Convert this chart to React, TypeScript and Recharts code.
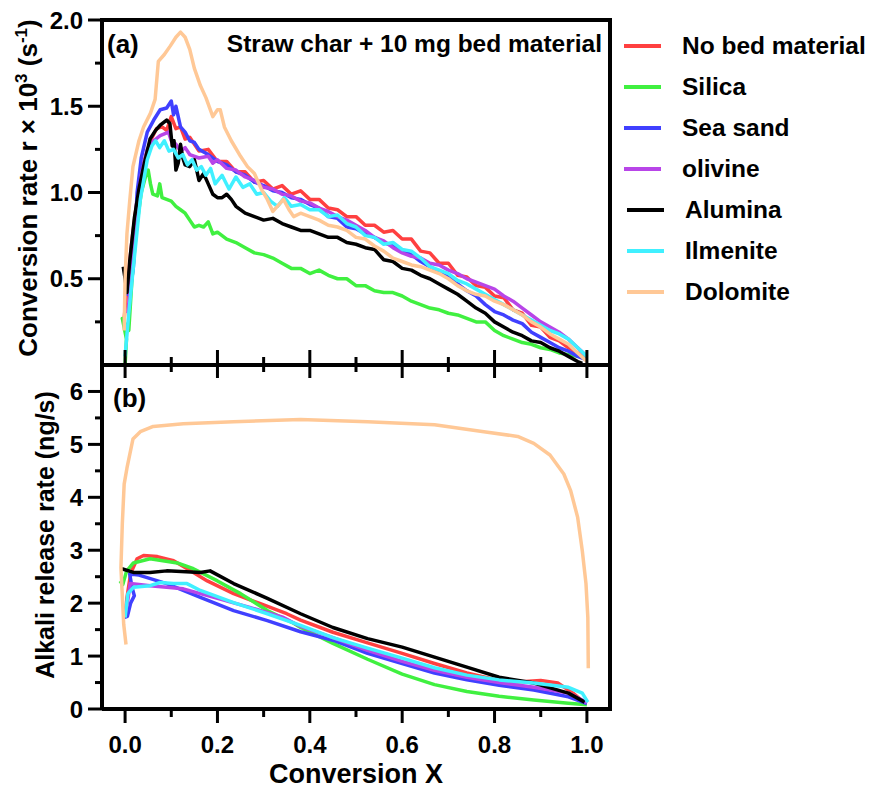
import React from "react";
import { Line, LineChart, XAxis, YAxis } from "recharts";

// conversion X vs conversion rate r x 10^3 (panel a)
const noBedA = [[-0.002,0.27],[0.006,0.5],[0.016,0.75],[0.028,1.0],[0.04,1.17],[0.055,1.3],[0.068,1.37],[0.08,1.38],[0.09,1.36],[0.1,1.44],[0.11,1.37],[0.12,1.38],[0.13,1.31],[0.14,1.32],[0.16,1.24],[0.18,1.25],[0.2,1.18],[0.22,1.18],[0.24,1.12],[0.26,1.12],[0.28,1.06],[0.3,1.07],[0.32,1.02],[0.34,1.04],[0.36,0.99],[0.38,1.01],[0.4,0.96],[0.42,0.96],[0.44,0.91],[0.46,0.9],[0.48,0.86],[0.5,0.86],[0.52,0.81],[0.54,0.81],[0.56,0.77],[0.58,0.78],[0.6,0.73],[0.62,0.73],[0.64,0.66],[0.66,0.65],[0.68,0.59],[0.7,0.59],[0.72,0.52],[0.74,0.51],[0.76,0.46],[0.78,0.45],[0.8,0.4],[0.82,0.39],[0.84,0.32],[0.86,0.3],[0.88,0.23],[0.9,0.22],[0.92,0.16],[0.94,0.14],[0.96,0.1],[0.98,0.07],[1.0,0.03]];
const silicaA = [[0.0,0.0],[0.003,0.15],[-0.006,0.27],[0.008,0.2],[0.015,0.5],[0.025,0.8],[0.035,1.0],[0.045,1.1],[0.05,1.13],[0.055,1.05],[0.06,0.99],[0.07,0.98],[0.075,1.05],[0.08,0.97],[0.09,0.96],[0.1,0.95],[0.11,0.92],[0.12,0.9],[0.13,0.88],[0.14,0.84],[0.15,0.8],[0.16,0.81],[0.17,0.8],[0.18,0.83],[0.19,0.76],[0.2,0.77],[0.22,0.73],[0.24,0.71],[0.26,0.68],[0.28,0.65],[0.3,0.64],[0.32,0.62],[0.34,0.59],[0.36,0.56],[0.38,0.56],[0.4,0.53],[0.42,0.55],[0.44,0.52],[0.46,0.5],[0.48,0.5],[0.5,0.46],[0.52,0.46],[0.54,0.43],[0.56,0.42],[0.58,0.42],[0.6,0.4],[0.62,0.37],[0.64,0.35],[0.66,0.33],[0.68,0.32],[0.7,0.3],[0.72,0.29],[0.74,0.27],[0.76,0.25],[0.78,0.25],[0.8,0.2],[0.82,0.17],[0.84,0.15],[0.86,0.13],[0.88,0.12],[0.9,0.1],[0.92,0.09],[0.94,0.07],[0.96,0.06],[0.98,0.05],[1.0,0.04]];
const seaSandA = [[0.005,0.4],[0.012,0.45],[0.018,0.57],[0.026,1.0],[0.035,1.2],[0.048,1.35],[0.062,1.42],[0.076,1.48],[0.09,1.49],[0.1,1.53],[0.105,1.45],[0.11,1.5],[0.12,1.38],[0.13,1.35],[0.14,1.3],[0.15,1.29],[0.16,1.25],[0.18,1.22],[0.2,1.18],[0.22,1.16],[0.24,1.12],[0.26,1.1],[0.28,1.06],[0.3,1.04],[0.32,1.01],[0.34,1.0],[0.36,0.97],[0.38,0.96],[0.4,0.93],[0.42,0.91],[0.44,0.86],[0.46,0.85],[0.48,0.8],[0.5,0.79],[0.52,0.76],[0.54,0.74],[0.56,0.71],[0.58,0.69],[0.6,0.66],[0.62,0.64],[0.64,0.6],[0.66,0.57],[0.68,0.54],[0.7,0.51],[0.72,0.47],[0.74,0.43],[0.76,0.4],[0.78,0.35],[0.8,0.31],[0.82,0.29],[0.84,0.26],[0.86,0.24],[0.88,0.19],[0.9,0.16],[0.92,0.13],[0.94,0.1],[0.96,0.08],[0.98,0.05],[1.0,0.03]];
const olivineA = [[0.006,0.3],[0.015,0.55],[0.025,0.9],[0.035,1.1],[0.048,1.25],[0.062,1.3],[0.076,1.33],[0.094,1.35],[0.1,1.3],[0.11,1.28],[0.12,1.24],[0.13,1.26],[0.14,1.22],[0.16,1.2],[0.18,1.21],[0.19,1.17],[0.2,1.19],[0.22,1.14],[0.24,1.13],[0.26,1.09],[0.28,1.07],[0.3,1.03],[0.32,1.02],[0.34,0.99],[0.36,0.98],[0.38,0.95],[0.4,0.94],[0.42,0.91],[0.44,0.89],[0.46,0.86],[0.48,0.84],[0.5,0.81],[0.52,0.78],[0.54,0.74],[0.56,0.72],[0.58,0.68],[0.6,0.65],[0.62,0.63],[0.64,0.62],[0.66,0.59],[0.68,0.58],[0.7,0.55],[0.72,0.53],[0.74,0.5],[0.76,0.48],[0.78,0.46],[0.8,0.44],[0.82,0.4],[0.84,0.37],[0.86,0.33],[0.88,0.29],[0.9,0.25],[0.92,0.22],[0.94,0.19],[0.96,0.15],[0.98,0.1],[1.0,0.05]];
const aluminaA = [[-0.004,0.57],[0.0,0.5],[0.004,0.42],[0.01,0.6],[0.02,0.85],[0.03,1.02],[0.04,1.15],[0.054,1.31],[0.066,1.36],[0.076,1.39],[0.09,1.42],[0.097,1.4],[0.102,1.27],[0.106,1.3],[0.11,1.13],[0.115,1.17],[0.12,1.28],[0.125,1.2],[0.13,1.16],[0.14,1.15],[0.15,1.19],[0.16,1.07],[0.17,1.11],[0.18,1.05],[0.19,0.99],[0.2,0.97],[0.21,0.97],[0.22,0.99],[0.23,0.96],[0.24,0.92],[0.26,0.88],[0.28,0.86],[0.3,0.84],[0.32,0.85],[0.34,0.82],[0.36,0.8],[0.38,0.78],[0.4,0.78],[0.42,0.76],[0.44,0.74],[0.46,0.74],[0.48,0.71],[0.5,0.7],[0.52,0.68],[0.54,0.67],[0.56,0.61],[0.58,0.6],[0.6,0.56],[0.62,0.55],[0.64,0.52],[0.66,0.5],[0.68,0.47],[0.7,0.44],[0.72,0.41],[0.74,0.37],[0.76,0.33],[0.78,0.3],[0.8,0.25],[0.82,0.22],[0.84,0.19],[0.86,0.17],[0.88,0.14],[0.9,0.13],[0.92,0.1],[0.94,0.08],[0.96,0.05],[0.98,0.02],[0.99,0.01]];
const ilmeniteA = [[0.0,0.05],[0.008,0.3],[0.018,0.57],[0.033,0.96],[0.048,1.19],[0.058,1.27],[0.066,1.3],[0.075,1.26],[0.085,1.3],[0.095,1.24],[0.105,1.25],[0.115,1.2],[0.125,1.22],[0.135,1.16],[0.145,1.19],[0.155,1.13],[0.165,1.15],[0.175,1.1],[0.185,1.14],[0.195,1.05],[0.21,1.1],[0.225,1.02],[0.24,1.09],[0.255,1.03],[0.27,1.05],[0.285,0.99],[0.3,1.0],[0.315,0.95],[0.33,0.92],[0.345,0.97],[0.36,0.92],[0.38,0.93],[0.4,0.9],[0.42,0.9],[0.44,0.86],[0.46,0.87],[0.48,0.82],[0.5,0.8],[0.52,0.75],[0.54,0.74],[0.56,0.7],[0.58,0.71],[0.6,0.67],[0.62,0.66],[0.64,0.62],[0.66,0.57],[0.68,0.55],[0.7,0.53],[0.72,0.49],[0.74,0.47],[0.76,0.44],[0.78,0.41],[0.8,0.38],[0.82,0.35],[0.84,0.32],[0.86,0.29],[0.88,0.26],[0.9,0.23],[0.92,0.2],[0.94,0.18],[0.96,0.15],[0.98,0.1],[1.0,0.05]];
const dolomiteA = [[-0.002,0.2],[0.0,0.5],[0.004,0.76],[0.01,0.95],[0.017,1.15],[0.03,1.3],[0.04,1.38],[0.055,1.46],[0.065,1.54],[0.072,1.76],[0.085,1.8],[0.098,1.85],[0.11,1.9],[0.12,1.93],[0.13,1.9],[0.14,1.83],[0.15,1.72],[0.163,1.62],[0.175,1.55],[0.19,1.44],[0.2,1.48],[0.206,1.48],[0.215,1.38],[0.23,1.3],[0.25,1.21],[0.265,1.15],[0.28,1.11],[0.295,1.02],[0.308,0.96],[0.32,0.89],[0.333,0.93],[0.343,0.96],[0.355,0.9],[0.365,0.86],[0.38,0.88],[0.4,0.86],[0.42,0.84],[0.44,0.81],[0.46,0.8],[0.48,0.78],[0.5,0.74],[0.52,0.73],[0.54,0.69],[0.56,0.66],[0.58,0.62],[0.6,0.6],[0.62,0.58],[0.64,0.57],[0.66,0.55],[0.68,0.53],[0.7,0.5],[0.72,0.46],[0.74,0.43],[0.76,0.41],[0.78,0.4],[0.8,0.37],[0.82,0.35],[0.84,0.32],[0.86,0.29],[0.88,0.25],[0.9,0.22],[0.92,0.18],[0.94,0.15],[0.96,0.12],[0.98,0.07],[1.0,0.02]];

// conversion X vs alkali release rate in ng/s (panel b)
const noBedB = [[0.0,1.75],[0.004,2.1],[0.012,2.56],[0.026,2.84],[0.04,2.9],[0.07,2.88],[0.105,2.8],[0.14,2.62],[0.178,2.42],[0.235,2.18],[0.293,1.99],[0.35,1.8],[0.38,1.68],[0.45,1.45],[0.525,1.25],[0.6,1.05],[0.67,0.86],[0.74,0.68],[0.8,0.56],[0.85,0.51],[0.9,0.54],[0.937,0.49],[0.97,0.3],[0.995,0.11]];
const silicaB = [[-0.011,2.42],[-0.005,2.35],[0.003,2.6],[0.018,2.76],[0.054,2.84],[0.113,2.76],[0.148,2.65],[0.2,2.42],[0.25,2.18],[0.308,1.86],[0.365,1.62],[0.38,1.54],[0.45,1.24],[0.525,0.94],[0.6,0.66],[0.67,0.46],[0.74,0.33],[0.81,0.24],[0.885,0.17],[0.96,0.11],[1.0,0.08]];
const seaSandB = [[-0.005,1.72],[0.005,1.75],[0.012,2.0],[0.02,2.14],[0.015,2.3],[0.01,2.55],[0.03,2.53],[0.09,2.37],[0.163,2.11],[0.235,1.86],[0.308,1.67],[0.38,1.46],[0.45,1.3],[0.525,1.05],[0.6,0.86],[0.67,0.68],[0.74,0.55],[0.81,0.45],[0.885,0.36],[0.96,0.23],[1.0,0.1]];
const olivineB = [[0.0,1.8],[0.005,2.0],[0.011,2.37],[0.054,2.33],[0.09,2.3],[0.126,2.27],[0.2,2.09],[0.27,1.92],[0.343,1.73],[0.38,1.56],[0.45,1.35],[0.525,1.11],[0.6,0.9],[0.67,0.73],[0.74,0.6],[0.81,0.5],[0.885,0.41],[0.96,0.3],[1.0,0.12]];
const aluminaB = [[-0.007,2.65],[0.018,2.58],[0.054,2.58],[0.09,2.61],[0.163,2.58],[0.184,2.61],[0.235,2.37],[0.308,2.09],[0.38,1.8],[0.45,1.54],[0.525,1.33],[0.6,1.17],[0.67,0.98],[0.74,0.79],[0.81,0.6],[0.885,0.49],[0.96,0.3],[0.995,0.13]];
const ilmeniteB = [[0.0,1.73],[0.006,2.18],[0.018,2.3],[0.054,2.33],[0.076,2.39],[0.105,2.37],[0.134,2.37],[0.163,2.24],[0.235,2.01],[0.308,1.8],[0.38,1.58],[0.45,1.35],[0.525,1.15],[0.6,0.96],[0.67,0.78],[0.74,0.64],[0.81,0.55],[0.885,0.49],[0.96,0.41],[0.99,0.3],[1.002,0.13]];
const dolomiteB = [[0.002,1.22],[-0.003,1.6],[-0.009,2.67],[-0.006,3.5],[-0.002,4.25],[0.004,4.55],[0.017,5.1],[0.033,5.24],[0.061,5.34],[0.126,5.39],[0.235,5.43],[0.38,5.47],[0.525,5.43],[0.67,5.37],[0.777,5.24],[0.85,5.15],[0.885,5.02],[0.92,4.8],[0.95,4.44],[0.965,4.12],[0.98,3.62],[0.99,2.99],[0.998,2.37],[1.002,1.73],[1.003,0.77]];

const names = ["No bed material", "Silica", "Sea sand", "olivine", "Alumina", "Ilmenite", "Dolomite"];
const colors = ["#ff4040", "#40f040", "#4040ff", "#b845e8", "#000000", "#40f0ff", "#ffc896"];
const panelA = [noBedA, silicaA, seaSandA, olivineA, aluminaA, ilmeniteA, dolomiteA];
const panelB = [noBedB, silicaB, seaSandB, olivineB, aluminaB, ilmeniteB, dolomiteB];

const xTicks = [0, 0.1, 0.2, 0.3, 0.4, 0.5, 0.6, 0.7, 0.8, 0.9, 1.0];
const xLabelled = [0, 0.2, 0.4, 0.6, 0.8, 1.0];
const aTicks = [0.25, 0.5, 0.75, 1.0, 1.25, 1.5, 1.75, 2.0];
const aLabelled = [0.5, 1.0, 1.5, 2.0];
const bTicks = [0, 0.5, 1, 1.5, 2, 2.5, 3, 3.5, 4, 4.5, 5, 5.5, 6];
const bLabelled = [0, 1, 2, 3, 4, 5, 6];

const FONT = "Arial, 'Liberation Sans', Helvetica, sans-serif";
const has = (list: number[], v: number) => list.some((m) => Math.abs(m - v) < 1e-6);
const toPoints = (pairs: number[][]) => pairs.map(([x, y]) => ({ x, y }));

function MidXTick({ x, y, payload }: any) {
  const major = has(xLabelled, payload.value);
  return <line x1={x} x2={x} y1={y - (major ? 15 : 8)} y2={y + (major ? 13 : 7)} stroke="#000" strokeWidth={3} />;
}

function BottomXTick({ x, y, payload }: any) {
  const major = has(xLabelled, payload.value);
  return (
    <g>
      <line x1={x} x2={x} y1={y} y2={y + (major ? 14 : 8)} stroke="#000" strokeWidth={3} />
      {major && (
        <text x={x} y={y + 44} textAnchor="middle" fontFamily={FONT} fontWeight="bold" fontSize={24} fill="#000">
          {Number(payload.value).toFixed(1)}
        </text>
      )}
    </g>
  );
}

function makeYTick(labelled: number[], digits: number) {
  return function YTick({ x, y, payload }: any) {
    const major = has(labelled, payload.value);
    return (
      <g>
        <line x1={x - (major ? 14 : 7)} x2={x} y1={y} y2={y} stroke="#000" strokeWidth={3} />
        {major && (
          <text x={x - 19} y={y} dy="0.36em" textAnchor="end" fontFamily={FONT} fontWeight="bold" fontSize={24} fill="#000">
            {Number(payload.value).toFixed(digits)}
          </text>
        )}
      </g>
    );
  };
}
const ATick = makeYTick(aLabelled, 1);
const BTick = makeYTick(bLabelled, 0);

const axisLine = { stroke: "#000", strokeWidth: 4 };

export default function App() {
  return (
    <div style={{ position: "absolute", left: 0, top: 0, width: 870, height: 799, background: "#fff", fontFamily: FONT }}>
      <div style={{ position: "absolute", left: 0, top: 0 }}>
        <LineChart width={870} height={380} margin={{ top: 20, right: 260, bottom: 14, left: 101 }}>
          <XAxis type="number" dataKey="x" domain={[-0.05, 1.05]} ticks={xTicks} interval={0} allowDataOverflow height={1} tickSize={0} tickMargin={0} tickLine={false} axisLine={axisLine} tick={<MidXTick />} />
          <YAxis type="number" domain={[0, 2]} ticks={aTicks} interval={0} allowDataOverflow width={1} tickSize={0} tickMargin={0} tickLine={false} axisLine={axisLine} tick={<ATick />} />
          {panelA.map((pairs, i) => (
            <Line key={names[i]} data={toPoints(pairs)} dataKey="y" type="linear" dot={false} stroke={colors[i]} strokeWidth={3.5} strokeLinejoin="round" isAnimationActive={false} />
          ))}
        </LineChart>
      </div>
      <div style={{ position: "absolute", left: 0, top: 0 }}>
        <LineChart width={870} height={799} margin={{ top: 365, right: 260, bottom: 89, left: 101 }}>
          <XAxis type="number" dataKey="x" domain={[-0.05, 1.05]} ticks={xTicks} interval={0} allowDataOverflow height={1} tickSize={0} tickMargin={0} tickLine={false} axisLine={axisLine} tick={<BottomXTick />} />
          <YAxis type="number" domain={[0, 6.5]} ticks={bTicks} interval={0} allowDataOverflow width={1} tickSize={0} tickMargin={0} tickLine={false} axisLine={axisLine} tick={<BTick />} />
          {panelB.map((pairs, i) => (
            <Line key={names[i]} data={toPoints(pairs)} dataKey="y" type="linear" dot={false} stroke={colors[i]} strokeWidth={3.5} strokeLinejoin="round" isAnimationActive={false} />
          ))}
        </LineChart>
      </div>
      {/* top and right frame */}
      <div style={{ position: "absolute", left: 100, top: 18, width: 512, height: 693, borderTop: "4px solid #000", borderRight: "4px solid #000", boxSizing: "border-box" }} />
      <svg width={870} height={799} style={{ position: "absolute", left: 0, top: 0, pointerEvents: "none" }} fontFamily={FONT} fontWeight="bold">
        <text x={107} y={53} fontSize={26}>(a)</text>
        <text x={113} y={407} fontSize={26}>(b)</text>
        <text x={602} y={52} fontSize={24.5} textAnchor="end">Straw char + 10 mg bed material</text>
        <text transform="translate(37,188) rotate(-90)" textAnchor="middle" fontSize={26}>
          Conversion rate r × 10<tspan dy={-10} fontSize={17}>3</tspan>
          <tspan dy={10}> (s</tspan>
          <tspan dy={-10} fontSize={17}>-1</tspan>
          <tspan dy={10}>)</tspan>
        </text>
        <text transform="translate(54,535) rotate(-90)" textAnchor="middle" fontSize={25}>Alkali release rate (ng/s)</text>
        <text x={356} y={783} textAnchor="middle" fontSize={27}>Conversion X</text>
      </svg>
      <div style={{ position: "absolute", left: 624, top: 25 }}>
        {names.map((n, i) => (
          <div key={n} style={{ display: "flex", alignItems: "center", height: 41, paddingLeft: i >= 4 ? 3 : 0 }}>
            <span style={{ display: "inline-block", width: 37, height: 4, background: colors[i], marginRight: 21 }} />
            <span style={{ fontSize: 24.5, fontWeight: "bold", color: "#000", whiteSpace: "nowrap" }}>{n}</span>
          </div>
        ))}
      </div>
    </div>
  );
}
